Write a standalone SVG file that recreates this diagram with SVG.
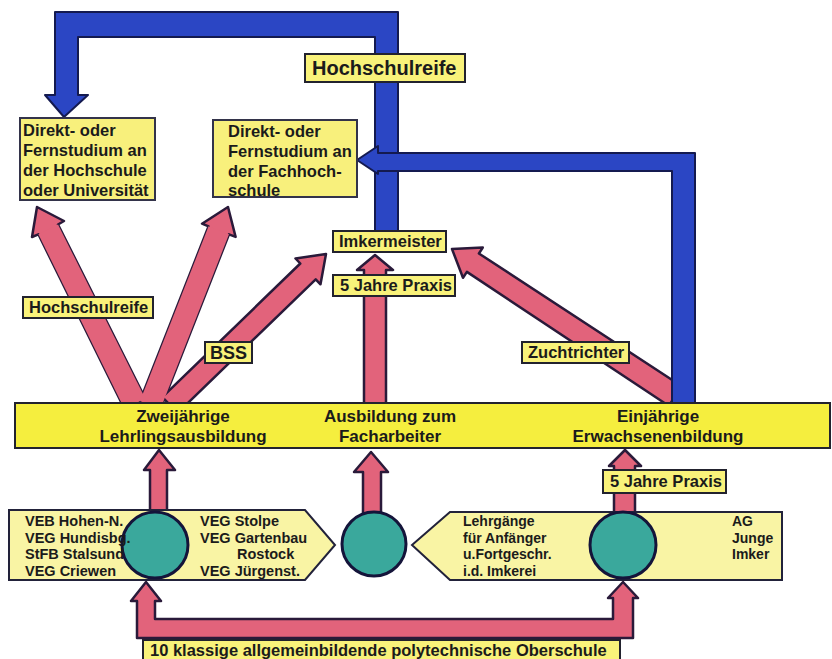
<svg xmlns="http://www.w3.org/2000/svg" xmlns:xlink="http://www.w3.org/1999/xlink" width="832" height="659" viewBox="0 0 832 659">
<style>
.t{font-family:"Liberation Sans",Arial,sans-serif;font-weight:bold;fill:#1b1b1b}
.lbl{fill:#f9f27a;stroke:#22222e;stroke-width:2}
.box{fill:#f8f07c;stroke:#33334a;stroke-width:2}
.bar{fill:#f5ee3e;stroke:#22222e;stroke-width:2}
.pent{fill:#f9f4a4;stroke:#22223a;stroke-width:2}
.circ{fill:#3aa89c;stroke:#14143a;stroke-width:3}
.red{fill:#e2637b;stroke:#2a1a3a;stroke-width:2.5;stroke-linejoin:round}
.redF{fill:#e2637b;stroke:none}
.blue{fill:#2b46c4;stroke:#141a50;stroke-width:2;stroke-linejoin:round}
</style>

<g id="connectors">
  <polygon id="arrow-uni" class="red" points="37,207 64,221 58,224.5 145,398 125,410 38.4,234.3 32,237"/>
  <polygon id="arrow-fh" class="red" points="228,207 235.6,236.9 229,234.3 160,410 140,401 208.6,226.3 202,223.7"/>
  <polygon id="arrow-bss" class="red" points="326,254 320.5,284.3 315.7,279.3 177.7,412.9 162.3,397.1 300.3,263.5 295.5,258.5"/>
  <g id="v-join" class="redF">
    <polygon points="58,224.5 145,398 125,410 38.4,234.3"/>
    <polygon points="229,234.3 160,410 140,401 208.6,226.3"/>
  </g>
  <polygon id="arrow-mid" class="red" points="364,410 364,270 357,270 375,255 393,270 386,270 386,410"/>
  <polygon id="arrow-zucht" class="red" points="452,249 482.8,247.6 478.9,253.5 681,385.8 669,406 466.9,271.9 463,277.8"/>
  <polygon id="arrow-left-up" class="red" points="150,515 150,470 144,470 159,450 175,470 167,470 167,515"/>
  <polygon id="arrow-mid-up" class="red" points="363,515 363,472 354,472 371,452 388,472 381,472 381,515"/>
  <polygon id="arrow-right-up" class="red" points="614,515 614,466 609,466 625,450 641,466 635,466 635,515"/>
  <polygon id="arrow-oberschule" class="red" points="137,638 137,601 131,601 146,582 161,601 155,601 155,619 613,619 613,598 608,598 623,582 638,598 633,598 633,638"/>
  <polygon id="blue-hochschulreife" class="blue" points="398,231 398,12 55,12 55,95 45,95 64,117 88,95 78,95 78,37 375,37 375,231"/>
  <polygon id="blue-fachhochschule" class="blue" points="695,405 695,153 378,153 378,146 357,160 378,174 378,171 672,171 672,405"/>
</g>

<g id="node-bar">
  <rect class="bar" x="15" y="403" width="815" height="45"/>
  <text class="t" font-size="17" text-anchor="middle" x="183" y="422">Zweijährige</text>
  <text class="t" font-size="17" text-anchor="middle" x="183" y="442">Lehrlingsausbildung</text>
  <text class="t" font-size="17" text-anchor="middle" x="390" y="422">Ausbildung zum</text>
  <text class="t" font-size="17" text-anchor="middle" x="390" y="442">Facharbeiter</text>
  <text class="t" font-size="17" text-anchor="middle" x="658" y="422">Einjährige</text>
  <text class="t" font-size="17" text-anchor="middle" x="658" y="442">Erwachsenenbildung</text>
</g>

<g id="node-hochschule">
  <rect class="box" x="20" y="118" width="135" height="82"/>
  <text class="t" font-size="16.5" x="23" y="136">Direkt- oder</text>
  <text class="t" font-size="16.5" x="23" y="156">Fernstudium an</text>
  <text class="t" font-size="16.5" x="23" y="176">der Hochschule</text>
  <text class="t" font-size="16.5" x="23" y="196">oder Universität</text>
</g>

<g id="node-fachhochschule">
  <rect class="box" x="213" y="120" width="144" height="77"/>
  <text class="t" font-size="16.5" x="228" y="137">Direkt- oder</text>
  <text class="t" font-size="16.5" x="228" y="157">Fernstudium an</text>
  <text class="t" font-size="16.5" x="228" y="177">der Fachhoch-</text>
  <text class="t" font-size="16.5" x="228" y="196">schule</text>
</g>

<g id="node-imkermeister">
  <rect class="lbl" x="333" y="231" width="113" height="21"/>
  <text class="t" font-size="16.5" x="339" y="247">Imkermeister</text>
</g>

<g id="label-hochschulreife-top">
  <rect class="lbl" x="305" y="54" width="160" height="28"/>
  <text class="t" font-size="20" x="312" y="75">Hochschulreife</text>
</g>
<g id="label-hochschulreife-left">
  <rect class="lbl" x="23" y="297" width="130" height="21"/>
  <text class="t" font-size="16.5" x="29" y="313">Hochschulreife</text>
</g>
<g id="label-bss">
  <rect class="lbl" x="205" y="342" width="47" height="21"/>
  <text class="t" font-size="18" x="210" y="359">BSS</text>
</g>
<g id="label-praxis-mid">
  <rect class="lbl" x="333" y="275" width="122" height="21"/>
  <text class="t" font-size="16.5" x="340" y="291">5 Jahre Praxis</text>
</g>
<g id="label-zuchtrichter">
  <rect class="lbl" x="522" y="342" width="107" height="21"/>
  <text class="t" font-size="16.5" x="528" y="358">Zuchtrichter</text>
</g>
<g id="label-praxis-right">
  <rect class="lbl" x="603" y="470" width="123" height="23"/>
  <text class="t" font-size="16.5" x="610" y="487">5 Jahre Praxis</text>
</g>

<g id="node-left-betriebe">
  <polygon class="pent" points="9,510 305,510 335,545 305,580 9,580"/>
  <circle class="circ" cx="155" cy="545" r="33"/>
  <text class="t" font-size="14.5" x="25" y="526">VEB Hohen-N.</text>
  <text class="t" font-size="14.5" x="25" y="543">VEG Hundisbg.</text>
  <text class="t" font-size="14.5" x="25" y="559">StFB Stalsund</text>
  <text class="t" font-size="14.5" x="25" y="576">VEG Criewen</text>
  <text class="t" font-size="14.5" x="200" y="526">VEG Stolpe</text>
  <text class="t" font-size="14.5" x="200" y="543">VEG Gartenbau</text>
  <text class="t" font-size="14.5" x="237" y="559">Rostock</text>
  <text class="t" font-size="14.5" x="200" y="576">VEG Jürgenst.</text>
</g>
<g id="node-mid-circle">
  <circle class="circ" cx="374" cy="544" r="32"/>
</g>
<g id="node-right-lehrgaenge">
  <polygon class="pent" points="412,545 450,512 782,512 782,580 450,580"/>
  <circle class="circ" cx="623" cy="545" r="33"/>
  <text class="t" font-size="14" x="463" y="526">Lehrgänge</text>
  <text class="t" font-size="14" x="463" y="543">für Anfänger</text>
  <text class="t" font-size="14" x="463" y="559">u.Fortgeschr.</text>
  <text class="t" font-size="14" x="463" y="576">i.d. Imkerei</text>
  <text class="t" font-size="14" x="732" y="526">AG</text>
  <text class="t" font-size="14" x="732" y="543">Junge</text>
  <text class="t" font-size="14" x="732" y="559">Imker</text>
</g>

<g id="node-oberschule">
  <rect class="lbl" x="143" y="640" width="477" height="24"/>
  <text class="t" font-size="16.5" x="150" y="656">10 klassige allgemeinbildende polytechnische Oberschule</text>
</g>
</svg>
